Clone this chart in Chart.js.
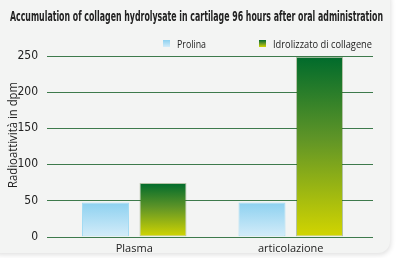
<!DOCTYPE html>
<html>
<head>
<meta charset="utf-8">
<script src="https://cdn.jsdelivr.net/npm/chart.js@4.4.1/dist/chart.umd.min.js"></script>
<style>
  html, body { margin: 0; padding: 0; background: #ffffff; }
  #wrap { width: 412px; height: 258px; position: relative; }
</style>
</head>
<body>
<div id="wrap"><canvas id="chart" width="412" height="258"></canvas></div>
<script>
const categories = ['Plasma', 'articolazione'];
const prolinaValues = [47, 47];
const collagenValues = [74, 249];
const seriesLabels = ['Prolina', 'Idrolizzato di collagene'];
const yTicks = [0, 50, 100, 150, 200, 250];
const chartTitle = 'Accumulation of collagen hydrolysate in cartilage 96 hours after oral administration';
const yTitle = 'Radioattività in dpm';

const narrow = '"Liberation Sans Narrow", "DejaVu Sans Condensed", sans-serif';
const regular = '"Open Sans", "Liberation Sans", sans-serif';

// vertical gradient spanning a single bar
function barGradient(ctx, stops) {
    const chart = ctx.chart;
    if (!chart.chartArea || ctx.type !== 'data') return stops[0][1];
    const y = chart.scales.y;
    const top = y.getPixelForValue(ctx.raw);
    const bottom = y.getPixelForValue(0);
    const g = chart.ctx.createLinearGradient(0, top, 0, bottom);
    stops.forEach(s => g.addColorStop(s[0], s[1]));
    return g;
}

const blueStops = [[0, '#8dd1f0'], [1, '#d3ecf9']];
const greenStops = [[0, '#006b2c'], [0.45, '#5e9427'], [1, '#d2d500']];

// text squeezed or stretched to a given width
function fitText(c, text, x, y, width) {
    const w = c.measureText(text).width;
    c.save();
    c.translate(x, y);
    c.scale(width / w, 1);
    c.fillText(text, 0, 0);
    c.restore();
}

const backgroundPlugin = {
    id: 'panel',
    beforeDraw(chart) {
        const c = chart.ctx;
        c.save();
        c.fillStyle = '#ffffff';
        c.fillRect(0, 0, chart.width, chart.height);
        c.shadowColor = 'rgba(0,0,0,0.12)';
        c.shadowBlur = 5;
        c.shadowOffsetX = 1;
        c.shadowOffsetY = 2;
        c.fillStyle = '#f3f4f3';
        c.beginPath();
        c.roundRect(-12, -12, 402, 265, 12);
        c.fill();
        c.restore();

        // title
        c.save();
        c.fillStyle = '#222222';
        c.font = 'bold 14px ' + narrow;
        c.textBaseline = 'alphabetic';
        c.textAlign = 'left';
        fitText(c, chartTitle, 10, 21, 373);
        c.restore();

        // y axis title
        c.save();
        c.fillStyle = '#222222';
        c.font = '12.5px ' + regular;
        c.textAlign = 'left';
        c.textBaseline = 'alphabetic';
        c.translate(17, 188);
        c.rotate(-Math.PI / 2);
        fitText(c, yTitle, 0, 0, 106);
        c.restore();

        // legend
        const items = [
            { x: 163, stops: blueStops, label: seriesLabels[0], w: 29 },
            { x: 259, stops: greenStops, label: seriesLabels[1], w: 99 }
        ];
        items.forEach(it => {
            c.save();
            const g = c.createLinearGradient(0, 40, 0, 47);
            it.stops.forEach(s => g.addColorStop(s[0], s[1]));
            c.fillStyle = g;
            c.fillRect(it.x, 40, 7, 7);
            c.fillStyle = '#222222';
            c.font = '11px ' + regular;
            c.textBaseline = 'alphabetic';
            fitText(c, it.label, it.x + 14, 48, it.w);
            c.restore();
        });
    },
    beforeDatasetsDraw(chart) {
        const c = chart.ctx;
        const y = chart.scales.y;
        c.save();
        c.strokeStyle = '#3d7a4c';
        c.lineWidth = 1;
        y.ticks.forEach(t => {
            const py = Math.round(y.getPixelForValue(t.value)) + 0.5;
            c.beginPath();
            c.moveTo(47, py);
            c.lineTo(373, py);
            c.stroke();
        });
        c.restore();
    }
};

new Chart(document.getElementById('chart'), {
    type: 'bar',
    data: {
        labels: categories,
        datasets: [{
            label: seriesLabels[0],
            data: prolinaValues,
            backgroundColor: ctx => barGradient(ctx, blueStops),
            borderColor: '#a3dbf3',
            borderWidth: 1,
            borderSkipped: false
        }, {
            label: seriesLabels[1],
            data: collagenValues,
            backgroundColor: ctx => barGradient(ctx, greenStops),
            borderColor: 'rgba(60,100,20,0.35)',
            borderWidth: 1,
            borderSkipped: false
        }]
    },
    options: {
        responsive: false,
        animation: false,
        devicePixelRatio: 1,
        categoryPercentage: 0.735,
        barPercentage: 0.817,
        layout: { padding: { left: 0, right: 43, top: 56, bottom: 0 } },
        plugins: {
            legend: { display: false },
            title: { display: false },
            tooltip: { enabled: false }
        },
        scales: {
            x: {
                afterFit: axis => { axis.height = 21.5; },
                grid: { display: false, drawTicks: false },
                border: { display: false },
                ticks: {
                    color: '#222222',
                    font: { family: regular, size: 11 },
                    padding: 6
                }
            },
            y: {
                min: 0,
                max: 250,
                afterBuildTicks: axis => { axis.ticks = yTicks.map(v => ({ value: v })); },
                afterFit: axis => {
                    axis.width = 56;
                    axis.paddingTop = 0;
                    axis.paddingBottom = 0;
                },
                grid: { display: false, drawTicks: false },
                border: { display: false },
                ticks: {
                    color: '#222222',
                    font: { family: narrow, size: 12 },
                    padding: 18
                }
            }
        }
    },
    plugins: [backgroundPlugin]
});
</script>
</body>
</html>
